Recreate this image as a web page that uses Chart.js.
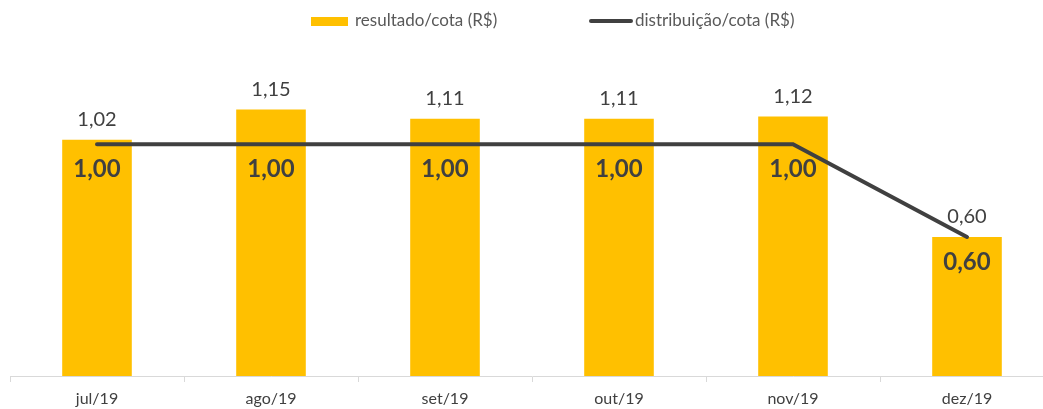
<!DOCTYPE html>
<html>
<head>
<meta charset="utf-8">
<script src="https://cdn.jsdelivr.net/npm/chart.js@4.4.1/dist/chart.umd.min.js"></script>
<style>
  html, body { margin: 0; padding: 0; background: #fff; overflow: hidden; }
  #wrap { position: relative; width: 1056px; height: 409px; }
</style>
</head>
<body>
<div id="wrap"><canvas id="c"></canvas></div>
<script>
// valores
const meses = ['jul/19', 'ago/19', 'set/19', 'out/19', 'nov/19', 'dez/19'];
const resultado = [1.02, 1.15, 1.11, 1.11, 1.12, 0.60];
const distribuicao = [1.00, 1.00, 1.00, 1.00, 1.00, 0.60];

const GOLD = '#FFC000';
const DARK = '#404040';
const FONT = 'Lato, "Open Sans", sans-serif';
const br = (v) => v.toFixed(2).replace('.', ',');

// rótulos de valor + legenda desenhados à mão (sem plugin datalabels)
const labelsPlugin = {
  id: 'labels',
  afterDatasetsDraw(chart) {
    const { ctx } = chart;
    const barMeta = chart.getDatasetMeta(0);
    const lineMeta = chart.getDatasetMeta(1);
    ctx.save();
    ctx.textAlign = 'center';
    ctx.textBaseline = 'middle';
    ctx.fillStyle = DARK;
    ctx.font = `20px ${FONT}`;
    barMeta.data.forEach((bar, i) => ctx.fillText(br(resultado[i]), bar.x, bar.y - 20));
    ctx.font = `bold 24px ${FONT}`;
    lineMeta.data.forEach((pt, i) => ctx.fillText(br(distribuicao[i]), pt.x, pt.y + 25));

    // legenda
    ctx.textAlign = 'left';
    ctx.font = `17px ${FONT}`;
    ctx.fillStyle = GOLD;
    ctx.fillRect(311, 17, 37, 9);
    ctx.fillStyle = '#595959';
    ctx.fillText('resultado/cota (R$)', 355, 21);
    ctx.strokeStyle = DARK;
    ctx.lineWidth = 4;
    ctx.lineCap = 'round';
    ctx.beginPath();
    ctx.moveTo(591, 21);
    ctx.lineTo(631, 21);
    ctx.stroke();
    ctx.fillText('distribuição/cota (R$)', 635, 21);
    ctx.restore();
  },
};

new Chart(document.getElementById('c'), {
  data: {
    labels: meses,
    datasets: [
      {
        type: 'bar',
        label: 'resultado/cota (R$)',
        data: resultado,
        backgroundColor: GOLD,
        barPercentage: 0.4,
        categoryPercentage: 1,
        order: 1,
      },
      {
        type: 'line',
        label: 'distribuição/cota (R$)',
        data: distribuicao,
        borderColor: DARK,
        borderWidth: 4,
        borderCapStyle: 'round',
        pointRadius: 0,
        tension: 0,
        order: 0,
      },
    ],
  },
  options: {
    responsive: true,
    maintainAspectRatio: false,
    animation: false,
    layout: { padding: { left: 10, right: 2, top: 40, bottom: 0 } },
    plugins: { legend: { display: false }, tooltip: { enabled: false } },
    scales: {
      x: {
        offset: true,
        grid: { offset: true, drawOnChartArea: false, color: '#d9d9d9', tickLength: 6 },
        border: { display: true, color: '#d9d9d9' },
        ticks: { color: DARK, font: { family: FONT, size: 16 }, padding: 7, maxRotation: 0, autoSkip: false },
        afterFit(scale) { scale.height = 33; },
      },
      y: { display: false, min: 0, max: 1.45 },
    },
  },
  plugins: [labelsPlugin],
});
</script>
</body>
</html>
